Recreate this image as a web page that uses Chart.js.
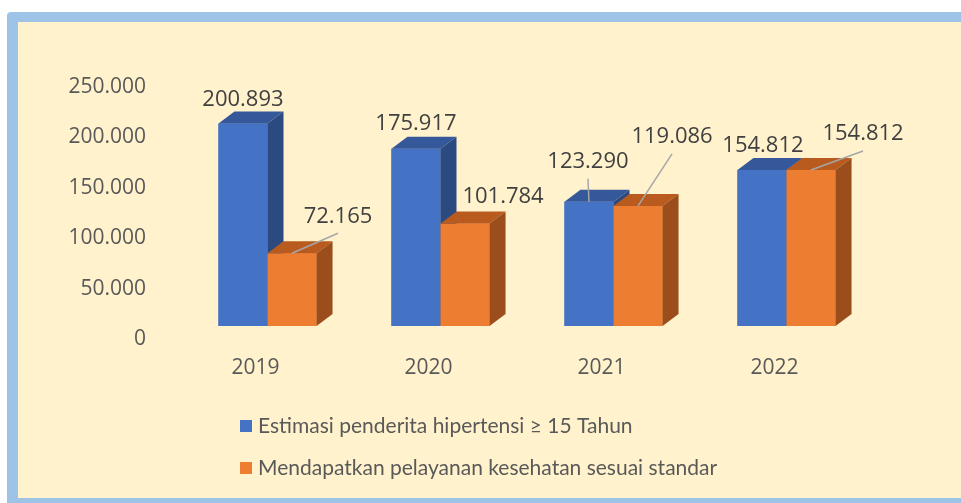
<!DOCTYPE html>
<html>
<head>
<meta charset="utf-8">
<script src="https://cdn.jsdelivr.net/npm/chart.js@4.4.0/dist/chart.umd.min.js"></script>
<style>
  body { margin: 0; background: #fff; }
  canvas { display: block; }
</style>
</head>
<body>
<canvas id="hipertensiChart" width="961" height="503"></canvas>
<script>
const years = ['2019', '2020', '2021', '2022'];
const estimasi = [200893, 175917, 123290, 154812];
const terlayani = [72165, 101784, 119086, 154812];
const yTicks = [0, 50000, 100000, 150000, 200000, 250000];
const seriesNames = [
  'Estimasi penderita hipertensi \u2265 15 Tahun',
  'Mendapatkan pelayanan kesehatan sesuai standar'
];

const FONT = '"Open Sans", "Noto Sans", sans-serif';
const LEGEND_FONT = 'Lato, "Open Sans", sans-serif';
const fmt = v => v.toLocaleString('de-DE');

// front, top, side colours for each series
const shades = [
  { front: '#4472C4', top: '#34589A', side: '#2B4A80' },
  { front: '#ED7D31', top: '#B95A1E', side: '#9B4E1B' }
];
const DEPTH_X = 16, DEPTH_Y = -12;

// where each value label sits, relative to the top of the bar's front face
const labelShift = [
  [[0, -24, false], [0, -25, false], [-1, -40, true], [1, -24, false]],
  [[46, -37, true], [38, -27, false], [34, -69, true], [52, -36, true]]
];

function poly(ctx, pts, color) {
  ctx.beginPath();
  ctx.moveTo(pts[0][0], pts[0][1]);
  for (let i = 1; i < pts.length; i++) ctx.lineTo(pts[i][0], pts[i][1]);
  ctx.closePath();
  ctx.fillStyle = color;
  ctx.fill();
}

const framePlugin = {
  id: 'frame',
  beforeDraw(chart) {
    const ctx = chart.ctx;
    ctx.save();
    ctx.fillStyle = '#ffffff';
    ctx.fillRect(0, 0, chart.width, chart.height);
    ctx.fillStyle = '#9DC3E6';
    ctx.beginPath();
    ctx.roundRect(7, 12, chart.width + 20, chart.height, 4);
    ctx.fill();
    ctx.fillStyle = '#FFF2CC';
    ctx.fillRect(18, 22, chart.width, 476);
    ctx.restore();
  }
};

// boxes: redraw every bar as a 3D block, category by category
const boxPlugin = {
  id: 'boxes',
  afterDatasetsDraw(chart) {
    const ctx = chart.ctx;
    ctx.save();
    years.forEach((_, j) => {
      [0, 1].forEach(d => {
        const bar = chart.getDatasetMeta(d).data[j];
        const half = bar.width / 2;
        const l = bar.x - half, r = bar.x + half, t = bar.y, b = bar.base;
        const c = shades[d];
        poly(ctx, [[l, t], [r, t], [r, b], [l, b]], c.front);
        poly(ctx, [[l, t], [r, t], [r + DEPTH_X, t + DEPTH_Y], [l + DEPTH_X, t + DEPTH_Y]], c.top);
        poly(ctx, [[r, t], [r + DEPTH_X, t + DEPTH_Y], [r + DEPTH_X, b + DEPTH_Y], [r, b]], c.side);
      });
    });

    ctx.font = '22px ' + FONT;
    ctx.textAlign = 'center';
    ctx.textBaseline = 'middle';
    [estimasi, terlayani].forEach((vals, d) => {
      chart.getDatasetMeta(d).data.forEach((bar, j) => {
        const [dx, dy, leader] = labelShift[d][j];
        const lx = bar.x + dx, ly = bar.y + dy;
        if (leader) {
          ctx.strokeStyle = '#A6A6A6';
          ctx.lineWidth = 1.5;
          ctx.beginPath();
          ctx.moveTo(bar.x, bar.y);
          ctx.lineTo(lx, ly + 17);
          ctx.stroke();
        }
        ctx.fillStyle = '#404040';
        ctx.fillText(fmt(vals[j]), lx, ly);
      });
    });
    ctx.restore();
  }
};

const legendPlugin = {
  id: 'sideLegend',
  afterDraw(chart) {
    const ctx = chart.ctx;
    ctx.save();
    ctx.font = '21px ' + LEGEND_FONT;
    ctx.textBaseline = 'middle';
    ctx.textAlign = 'left';
    seriesNames.forEach((name, i) => {
      const y = 426 + i * 42;
      ctx.fillStyle = shades[i].front;
      ctx.fillRect(240, y - 6, 12, 12);
      ctx.fillStyle = '#595959';
      ctx.fillText(name, 258, y);
    });
    ctx.restore();
  }
};

new Chart(document.getElementById('hipertensiChart'), {
  type: 'bar',
  data: {
    labels: years,
    datasets: [
      { label: seriesNames[0], data: estimasi, backgroundColor: shades[0].front },
      { label: seriesNames[1], data: terlayani, backgroundColor: shades[1].front }
    ]
  },
  options: {
    responsive: false,
    animation: false,
    layout: { padding: { left: 0, right: 88, top: 74, bottom: 0 } },
    datasets: { bar: { categoryPercentage: 0.567, barPercentage: 1 } },
    scales: {
      x: {
        grid: { display: false, drawTicks: false },
        border: { display: false },
        ticks: {
          color: '#595959',
          font: { family: FONT, size: 21 },
          padding: 29,
          labelOffset: -12
        },
        afterFit: scale => { scale.height = 177; }
      },
      y: {
        min: 0,
        max: 250000,
        grid: { display: false, drawTicks: false },
        border: { display: false },
        afterBuildTicks: scale => { scale.ticks = yTicks.map(v => ({ value: v })); },
        ticks: {
          color: '#595959',
          font: { family: FONT, size: 21 },
          padding: 35,
          labelOffset: 13,
          callback: v => fmt(v)
        },
        afterFit: scale => { scale.width = 181; }
      }
    },
    plugins: {
      legend: { display: false },
      tooltip: { enabled: false }
    }
  },
  plugins: [framePlugin, boxPlugin, legendPlugin]
});
</script>
</body>
</html>
